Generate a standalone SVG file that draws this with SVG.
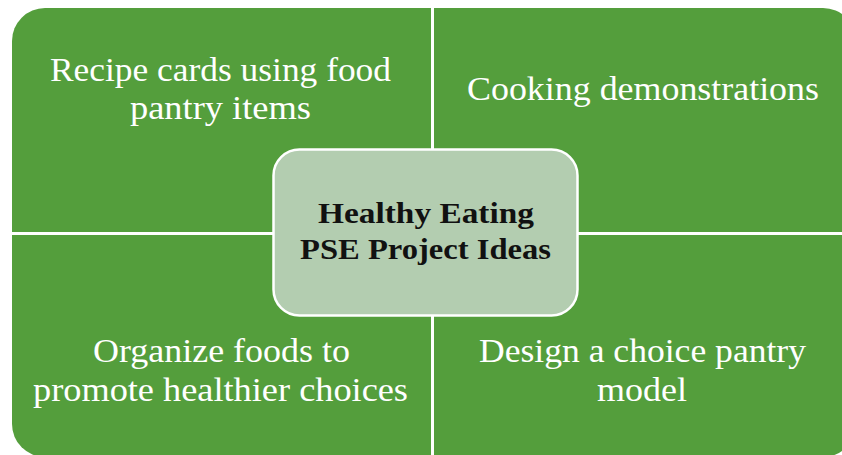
<svg xmlns="http://www.w3.org/2000/svg" width="842" height="455" viewBox="0 0 842 455">
<style>
.q{fill:#549e3c}
.t{font-family:"Liberation Serif","Times New Roman",serif;font-size:33px;fill:#ffffff;text-anchor:middle}
.c{font-family:"Liberation Serif","Times New Roman",serif;font-size:29px;font-weight:bold;fill:#111111;text-anchor:middle}
</style>
<rect width="842" height="455" fill="#ffffff"/>
<g id="q-top-left">
<path class="q" d="M12,41 A33,33 0 0 1 45,8 L431,8 L431,232 L12,232 Z"/>
<text class="t" x="220.5" y="81" textLength="341" lengthAdjust="spacingAndGlyphs">Recipe cards using food</text>
<text class="t" x="220.5" y="119" textLength="181" lengthAdjust="spacingAndGlyphs">pantry items</text>
</g>
<g id="q-top-right">
<path class="q" d="M434,8 L823,8 A33,33 0 0 1 856,41 L856,232 L434,232 Z"/>
<text class="t" x="643" y="100" textLength="352" lengthAdjust="spacingAndGlyphs">Cooking demonstrations</text>
</g>
<g id="q-bottom-left">
<path class="q" d="M12,235 L431,235 L431,457 L45,457 A33,33 0 0 1 12,424 Z"/>
<text class="t" x="221.5" y="362" textLength="257" lengthAdjust="spacingAndGlyphs">Organize foods to</text>
<text class="t" x="220.5" y="401" textLength="375" lengthAdjust="spacingAndGlyphs">promote healthier choices</text>
</g>
<g id="q-bottom-right">
<path class="q" d="M434,235 L856,235 L856,424 A33,33 0 0 1 823,457 L434,457 Z"/>
<text class="t" x="642.5" y="362" textLength="327" lengthAdjust="spacingAndGlyphs">Design a choice pantry</text>
<text class="t" x="642" y="401" textLength="90" lengthAdjust="spacingAndGlyphs">model</text>
</g>
<g id="center">
<rect x="273.5" y="149.5" width="304" height="166" rx="26" ry="26" fill="#b3cdb0" stroke="#ffffff" stroke-width="2.5"/>
<text class="c" x="426" y="223" textLength="216" lengthAdjust="spacingAndGlyphs">Healthy Eating</text>
<text class="c" x="425.5" y="259" textLength="251" lengthAdjust="spacingAndGlyphs">PSE Project Ideas</text>
</g>
<g id="connectors"></g>
</svg>
